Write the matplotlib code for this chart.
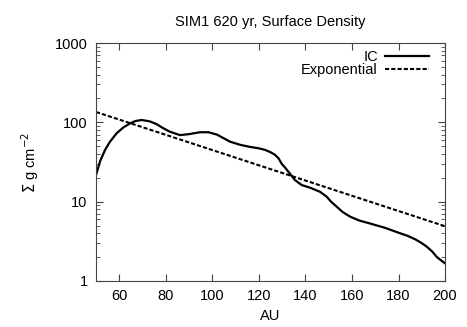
import matplotlib
matplotlib.use("Agg")
import matplotlib.pyplot as plt
from matplotlib.ticker import LogLocator, FixedLocator, NullFormatter

# values
ic_r = [50, 51.7, 53.9, 56, 58.9, 61.7, 64.6, 67, 69.6, 73, 76, 79, 81.8, 86.1, 90, 94.7,
        98.3, 102, 107.6, 112, 116.2, 120, 122.6, 125, 126.9, 128.5, 129.8, 131.2,
        132.6, 135.5, 138.4, 142, 146.3, 149.2, 151, 153.5, 156, 159.3, 163, 167.8,
        174, 180, 184, 187.2, 190, 192.2, 194.5, 196.5, 198.5, 200]
ic_sigma = [21.6, 32, 45, 57, 73, 86, 97, 104, 107, 103, 95, 84, 76, 69, 71, 75,
            75, 70, 57, 52, 49, 47, 45, 42, 39, 35, 30, 27,
            24, 18.7, 16.2, 15, 13.3, 11.5, 10, 8.6, 7.4, 6.45, 5.8, 5.3,
            4.7, 4.06, 3.7, 3.35, 3.0, 2.7, 2.35, 2.0, 1.8, 1.67]

exp_r = [50, 200]
exp_sigma = [135, 4.9]

plt.rcParams['font.family'] = ['Liberation Sans', 'DejaVu Sans']

fig = plt.figure(figsize=(4.67, 3.27), dpi=100)
ax = fig.add_axes([0.2056, 0.1407, 0.7474, 0.7278])

ax.plot(ic_r, ic_sigma, color='black', lw=1.6, label='IC')
ax.plot(exp_r, exp_sigma, color='black', lw=1.5, linestyle=(0, (2, 1)), label='Exponential')

ax.set_yscale('log')
ax.set_xlim(50, 200)
ax.set_ylim(1, 1000)
ax.xaxis.set_major_locator(FixedLocator([60, 80, 100, 120, 140, 160, 180, 200]))
ax.set_yticks([1, 10, 100, 1000])
ax.set_yticklabels(['1', '10', '100', '1000'])
ax.yaxis.set_minor_locator(LogLocator(base=10, subs=range(2, 10)))
ax.yaxis.set_minor_formatter(NullFormatter())

ax.tick_params(which='both', direction='in', top=True, right=True, labelsize=10.5,
               color='#444444', pad=6)
ax.tick_params(which='major', length=5)
ax.tick_params(which='minor', length=3)
for s in ax.spines.values():
    s.set_color('#444444')

ax.set_xlabel('AU', fontsize=10.5)
ax.set_ylabel(r'$\Sigma$ g cm$^{-2}$', fontsize=10.5, labelpad=10)
ax.set_title('SIM1 620 yr, Surface Density', fontsize=10.5, pad=12)

ax.legend(loc='upper right', frameon=False, markerfirst=False, handlelength=3.0,
          fontsize=10.5, borderaxespad=0.0, borderpad=0.2, labelspacing=-0.1,
          handletextpad=0.5, bbox_to_anchor=(0.962, 0.982))

fig.savefig('out.png', dpi=100)
